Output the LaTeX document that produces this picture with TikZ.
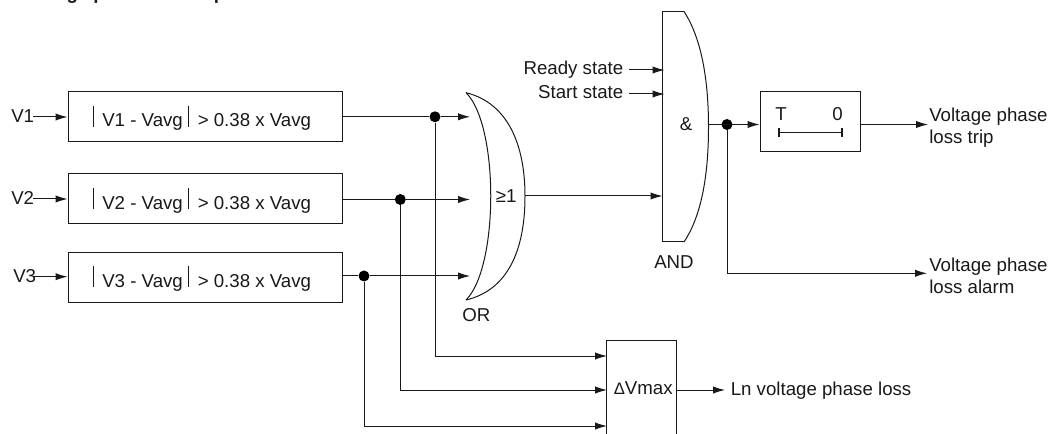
\documentclass[tikz,border=0pt]{standalone}
\usepackage{fontspec}
\setmainfont{Liberation Sans}
\usetikzlibrary{arrows.meta}
\tikzset{x=0.75pt,y=-0.75pt,
 wire/.style={draw=black!90,line width=0.75pt},
 arr/.style={wire,-{Latex[length=9pt,width=5.5pt]}},
 cmpbox/.style={draw=black!90,line width=0.75pt,fill=white,minimum width=205.5pt,minimum height=37.5pt,inner sep=0pt},
 lbl/.style={inner sep=0pt,anchor=base west,font=\fontsize{14pt}{16.5pt}\selectfont,text=black!90},
 dot/.style={circle,fill=black,inner sep=0pt,minimum size=8.25pt}}
\begin{document}
\begin{tikzpicture}
\useasboundingbox (0,0) rectangle (1048,434);
\path[clip] (0,0) rectangle (1048,434);
\node[lbl,font=\fontsize{14pt}{16pt}\bfseries\selectfont] (title) at (22,-0.5) {Voltage phase loss trip/alarm};
% comparators
\node[cmpbox] (c1) at (205,117) {};
\node[cmpbox] (c2) at (205,199) {};
\node[cmpbox] (c3) at (205,277.7) {};
\foreach \n/\b/\vb/\vx/\ay in {1/127/122.6/11/117,2/209.3/205/11/199,3/287.3/282.7/13/276.7}{
 \node[lbl] (t\n) at (102,\b) {V\n\ - Vavg};
 \node[lbl] (g\n) at (197.5,\b) {> 0.38 x Vavg};
 \draw[wire] (93.7,\b-21) -- (93.7,\b);
 \draw[wire] (188.3,\b-21) -- (188.3,\b);
 \node[lbl] (v\n) at (\vx,\vb) {V\n};
 \coordinate (s\n) at (33,\ay);
 \coordinate (e\n) at (c\n.west |- s\n);
 \draw[arr] (s\n) -- (e\n);
}
% OR gate
\coordinate (orT) at (466,92.7);
\coordinate (orB) at (466,300);
\draw[wire] (orT) .. controls (499,125) and (499,267) .. (orB);
\draw[wire] (orT) .. controls (508,103) and (525,145) .. (525,196) .. controls (525,250) and (508,290) .. (orB);
\node[lbl] (ge) at (495.5,203) {≥1};
\node[lbl] (orl) at (462,321) {OR};
% AND gate
\draw[wire] (684,11.5) -- (662.5,11.5) -- (662.5,242) -- (684,242);
\draw[wire] (684,11.5) .. controls (700,36) and (708.5,75) .. (708.5,127) .. controls (708.5,180) and (700,218) .. (684,242);
\coordinate (andL) at (662.5,196);
\node[lbl,anchor=base] (amp) at (686,130.7) {\&};
\node[lbl] (andn) at (654,269) {AND};
% or-and
\coordinate (orO) at (525,196);
\draw[arr] (orO) -- (andL);
\node[lbl,anchor=base east] (rs) at (623.5,74.5) {Ready state};
\node[lbl,anchor=base east] (ss) at (623.5,98.5) {Start state};
\coordinate (a1) at (664.5,70);
\coordinate (a2) at (664.5,94);
\coordinate (r1) at (629,70);
\coordinate (r2) at (629,94);
\draw[arr] (r1) -- (a1);
\draw[arr] (r2) -- (a2);
% timer
\node[draw=black!90,line width=0.75pt,minimum width=75pt,minimum height=45pt,inner sep=0pt] (tm) at (810,122) {};
\node[lbl] (T) at (775,120.7) {T};
\node[lbl] (Z) at (832,120.7) {0};
\coordinate (b1) at (779,133);
\coordinate (b2) at (842,133);
\draw[wire] (b1) -- (b2);
\draw[wire,line width=1pt] (779,128.5) -- (779,137.5);
\draw[wire,line width=1pt] (842,128.5) -- (842,137.5);
\coordinate (andO) at (708.5,124.5);
\node[dot] (d4) at (727,124.5) {};
\coordinate (tmi) at (tm.west |- d4);
\coordinate (tmo) at (tm.east |- d4);
\coordinate (tmx) at (928,124.5);
\draw[arr] (andO) -- (tmi);
\draw[arr] (tmo) -- (tmx);
\node[lbl,align=left,anchor=north west] (vt) at (929,108) {Voltage phase\\loss trip};
\coordinate (alx) at (927,273.3);
\draw[arr] (d4) |- (alx);
\node[lbl,align=left,anchor=north west] (va) at (929,257.5) {Voltage phase\\loss alarm};
% dVmax
\node[draw=black!90,line width=0.75pt,minimum width=52pt,minimum height=75pt,inner sep=0pt] (dv) at (641.5,390) {};
\node[lbl] (dvl) at (613.5,394.5) {{\fontsize{12.5pt}{13pt}\selectfont Δ}Vmax};
\coordinate (dv1) at (607,356);
\coordinate (dv2) at (607,390);
\coordinate (dv3) at (607,426);
\coordinate (lnx) at (725,390);
\coordinate (dvo) at (dv.east |- dv2);
\draw[arr] (dvo) -- (lnx);
\node[lbl] (ln) at (730.5,395) {Ln voltage phase loss};
% dots and wires
\node[dot] (d1) at (435,116.8) {};
\node[dot] (d2) at (400.3,199.5) {};
\node[dot] (d3) at (364,276) {};
\coordinate (o1) at (470,116.8);
\coordinate (o2) at (470,199.5);
\coordinate (o3) at (470,276);
\draw[wire] (c1.east |- d1) -- (d1);
\draw[arr] (d1) -- (o1);
\draw[wire] (c2.east |- d2) -- (d2);
\draw[arr] (d2) -- (o2);
\draw[wire] (c3.east |- d3) -- (d3);
\draw[arr] (d3) -- (o3);
\draw[arr] (d1) |- (dv1);
\draw[arr] (d2) |- (dv2);
\draw[arr] (d3) |- (dv3);
\end{tikzpicture}
\end{document}
